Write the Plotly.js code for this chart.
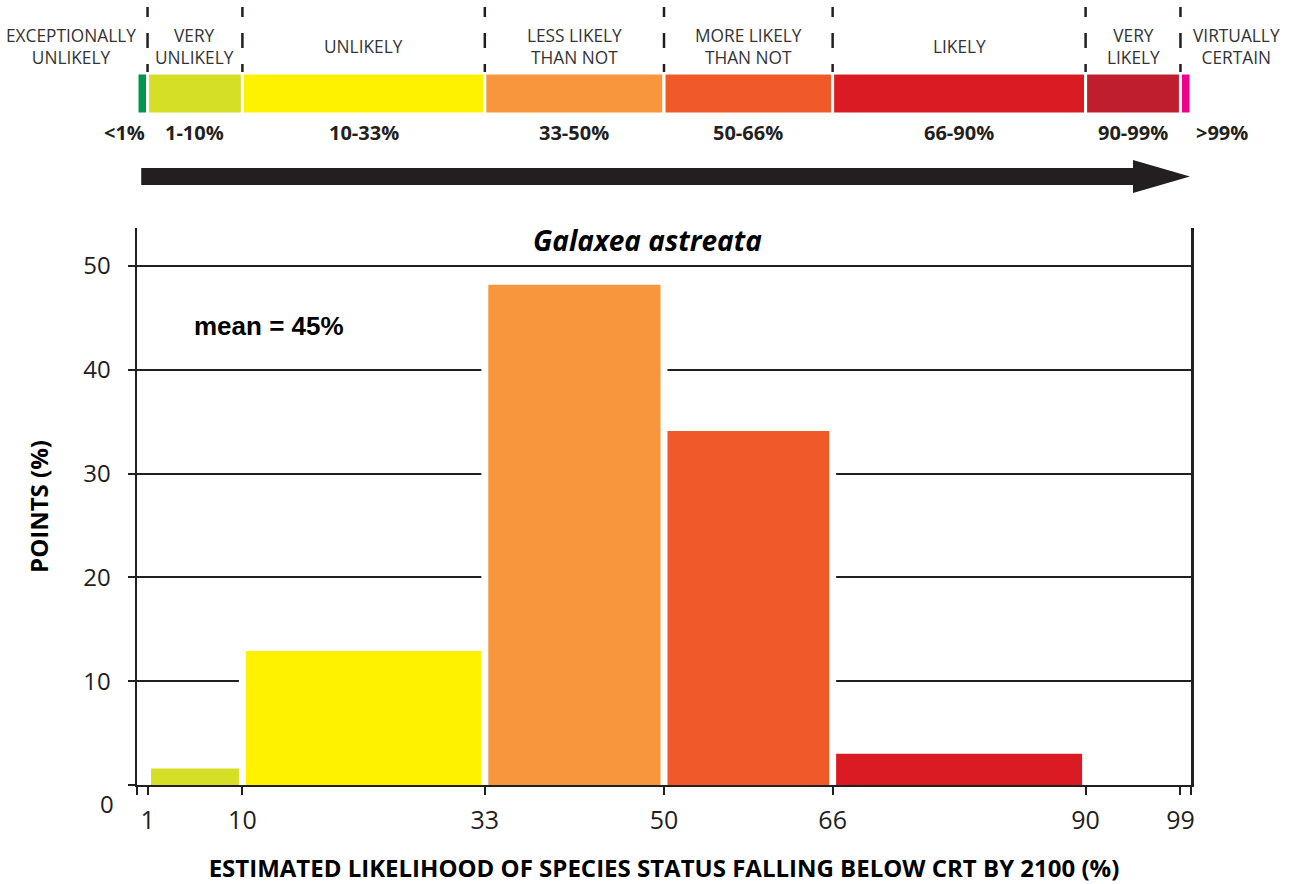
<!DOCTYPE html>
<html>
<head>
<meta charset="utf-8">
<script src="https://cdn.plot.ly/plotly-3.0.1.min.js"></script>
<style>html,body{margin:0;padding:0;background:#fff;}#chart{width:1289px;height:884px;}</style>
</head>
<body>
<div id="chart"></div>
<script>
// ---- data ----
const binLow = [1, 10, 33, 50, 66];
const binHigh = [10, 33, 50, 66, 90];
const pointsPct = [1.6, 12.9, 48.2, 34.1, 3.0];
const barColors = ['#d5df26', '#fff200', '#f7963d', '#f05a28', '#db1b23'];

const scaleEdges = [0, 1, 10, 33, 50, 66, 90, 99, 100];
const scaleNames = ['EXCEPTIONALLY<br>UNLIKELY', 'VERY<br>UNLIKELY', 'UNLIKELY', 'LESS LIKELY<br>THAN NOT',
  'MORE LIKELY<br>THAN NOT', 'LIKELY', 'VERY<br>LIKELY', 'VIRTUALLY<br>CERTAIN'];
const scaleRanges = ['<1%', '1-10%', '10-33%', '33-50%', '50-66%', '66-90%', '90-99%', '>99%'];
const scaleColors = ['#00964b', '#d5df26', '#fff200', '#f7963d', '#f05a28', '#db1b23', '#be1e2d', '#ec008c'];

const xTickVals = [0, 1, 10, 33, 50, 66, 90, 99, 100];
const xTickText = ['', '1', '10', '33', '50', '66', '90', '99', ''];
const yTickVals = [0, 10, 20, 30, 40, 50];
const yTickText = ['', '10', '20', '30', '40', '50'];

const speciesName = 'Galaxea astreata';
const meanLabel = 'mean = 45%';
const xTitle = 'ESTIMATED LIKELIHOOD OF SPECIES STATUS FALLING BELOW CRT BY 2100 (%)';
const yTitle = 'POINTS (%)';

// ---- style constants ----
const INK = '#231f20';
const FONT = 'Open Sans, Noto Sans, sans-serif';
const GAP = 0.66;      // x-units white gap between bars
const HALO_Y = 0.6;    // y-units white halo above bars

const mids = binLow.map((l, i) => (l + binHigh[i]) / 2);
const widths = binLow.map((l, i) => binHigh[i] - l);

const scaleMids = scaleEdges.slice(0, -1).map((e, i) => (e + scaleEdges[i + 1]) / 2);
const scaleWidths = scaleEdges.slice(0, -1).map((e, i) => scaleEdges[i + 1] - e);

const traces = [
  { // white halo masking the gridlines around bars
    type: 'bar', x: mids, y: pointsPct.map(v => v + HALO_Y), width: widths.map(w => w + GAP),
    marker: { color: '#ffffff', line: { width: 0 } }, hoverinfo: 'skip', xaxis: 'x', yaxis: 'y'
  },
  {
    type: 'bar', x: mids, y: pointsPct, width: widths.map(w => w - GAP),
    marker: { color: barColors, line: { width: 0 } }, hoverinfo: 'x+y', xaxis: 'x', yaxis: 'y'
  },
  { // likelihood scale colour strip
    type: 'bar', x: scaleMids, y: scaleMids.map(() => 1), width: scaleWidths,
    marker: { color: scaleColors, line: { color: '#ffffff', width: 3 } }, hoverinfo: 'skip',
    xaxis: 'x', yaxis: 'y2'
  }
];

// paper y from pixel row (top margin 5, bottom margin 99 => plot height 780)
const py = p => (785 - p) / 780;

const annotations = [];
scaleNames.forEach((t, i) => {
  let x = scaleMids[i], xanchor = 'center', xshift = 0;
  if (i === 0) { x = scaleEdges[0]; xanchor = 'right'; xshift = 1; }
  if (i === scaleNames.length - 1) { x = scaleEdges[i]; xanchor = 'left'; xshift = 11; }
  annotations.push({ text: t, x: x, xref: 'x', xanchor: xanchor, xshift: xshift, y: py(46), yref: 'paper',
    yanchor: 'middle', showarrow: false, font: { family: FONT, size: 17.3, color: '#333' } });
});
scaleRanges.forEach((t, i) => {
  let x = scaleMids[i], xanchor = 'center', xshift = 0;
  if (i === 0) { x = scaleEdges[1]; xanchor = 'right'; xshift = -1; }
  if (i === scaleRanges.length - 1) { x = scaleEdges[i]; xanchor = 'left'; xshift = 14; }
  annotations.push({ text: '<b>' + t + '</b>', x: x, xref: 'x', xanchor: xanchor, xshift: xshift, y: py(133), yref: 'paper',
    yanchor: 'middle', showarrow: false, font: { family: FONT, size: 20, color: INK } });
});
annotations.push({ text: '<b><i>' + speciesName + '</i></b>', x: (647 - 137) / 1054, xref: 'paper', y: py(240), yref: 'paper',
  yanchor: 'middle', showarrow: false, font: { family: FONT, size: 28, color: '#000' } });
annotations.push({ text: '<b>' + meanLabel + '</b>', x: (192 - 137) / 1054, xref: 'paper', xanchor: 'left',
  y: py(326), yref: 'paper', yanchor: 'middle', showarrow: false,
  font: { family: 'Liberation Sans, Arial, sans-serif', size: 26, color: '#000' } });
annotations.push({ text: '0', x: (116 - 137) / 1054, xref: 'paper', xanchor: 'right', y: 0, yref: 'y',
  yanchor: 'middle', yshift: -18, showarrow: false, font: { family: FONT, size: 24, color: INK } });

const shapes = [];
scaleEdges.slice(1, -1).forEach(e => {
  shapes.push({ type: 'line', xref: 'x', yref: 'paper', x0: e, x1: e, y0: py(7), y1: py(72),
    line: { color: INK, width: 2.5, dash: '10px,16px,15px,16px,10px' } });
});
// arrow
shapes.push({ type: 'rect', xref: 'x', yref: 'paper', x0: 0.4, x1: 95, y0: py(185), y1: py(168),
  fillcolor: INK, line: { width: 0 } });
shapes.push({ type: 'path', xref: 'x', yref: 'paper',
  path: `M 94.5 ${py(160)} L 99.9 ${py(176.5)} L 94.5 ${py(193)} Z`, fillcolor: INK, line: { width: 0 } });

const layout = {
  width: 1289, height: 884,
  margin: { l: 137, r: 98, t: 5, b: 99 },
  paper_bgcolor: '#fff', plot_bgcolor: 'rgba(0,0,0,0)',
  showlegend: false, barmode: 'overlay',
  xaxis: {
    range: [0, 100], tickvals: xTickVals, ticktext: xTickText, ticks: 'outside', ticklen: 8, tickwidth: 2,
    tickcolor: INK, showline: true, linecolor: INK, linewidth: 2, showgrid: false, zeroline: false,
    tickfont: { family: FONT, size: 25, color: INK }, ticklabelstandoff: 4, fixedrange: true,
    title: { text: '<b>' + xTitle + '</b>', font: { family: FONT, size: 24, color: '#000' }, standoff: 28 }
  },
  yaxis: {
    domain: [0, py(228)], range: [0, (785 - 228) / 10.38], tickvals: yTickVals, ticktext: yTickText,
    ticks: 'outside', ticklen: 7, tickwidth: 2, tickcolor: INK, showline: true, linecolor: INK, linewidth: 2.5,
    mirror: true, showgrid: true, gridcolor: INK, gridwidth: 2, zeroline: false,
    tickfont: { family: FONT, size: 24, color: INK }, ticklabelstandoff: 12, fixedrange: true,
    title: { text: '<b>' + yTitle + '</b>', font: { family: FONT, size: 24, color: '#000' }, standoff: 28 }
  },
  yaxis2: { domain: [py(114), py(73)], range: [0, 1], anchor: 'x', visible: false, fixedrange: true },
  annotations: annotations,
  shapes: shapes
};

Plotly.newPlot('chart', traces, layout, { displayModeBar: false, staticPlot: true });
</script>
</body>
</html>
